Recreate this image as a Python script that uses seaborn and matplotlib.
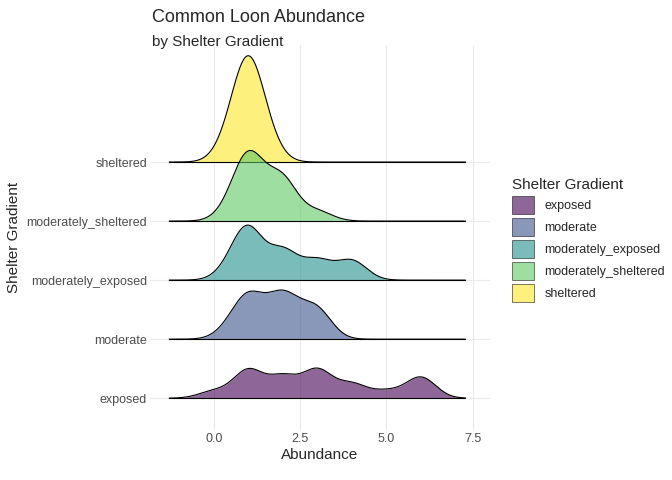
import numpy as np
import matplotlib
matplotlib.use("Agg")
import matplotlib.pyplot as plt
import seaborn as sns
from matplotlib.patches import Patch

groups = ["exposed", "moderate", "moderately_exposed", "moderately_sheltered", "sheltered"]
exposed = [0, 1, 1, 1, 1, 2, 2, 3, 3, 3, 4, 4, 5, 6, 6, 6, 2, 3]
moderate = [1, 1, 1, 2, 2, 2, 3, 3, 1, 2, 3, 1.5, 2.5, 0.5]
moderately_exposed = [0.5, 1, 1, 1, 1, 2, 2, 2, 3, 4, 4, 1, 3]
moderately_sheltered = [0.5, 1, 1, 1, 1, 1, 2, 2, 2, 3, 1, 2, 1.5]
sheltered = [1, 1, 1, 1, 1, 1, 1, 1, 1, 0.5, 1.5, 0.5, 1.5]
values = [exposed, moderate, moderately_exposed, moderately_sheltered, sheltered]

sns.set_theme(style="whitegrid")
plt.rcParams['font.family'] = ['Liberation Sans', 'DejaVu Sans']
colors = ["#440154", "#3B528B", "#21908C", "#5DC863", "#FDE725"]

bw = 0.43
allv = np.concatenate(values)
grid = np.linspace(allv.min() - 3 * bw, allv.max() + 3 * bw, 400)

def kde(v):
    v = np.asarray(v, float)
    d = np.exp(-0.5 * ((grid[:, None] - v[None, :]) / bw) ** 2).sum(axis=1)
    return d / (len(v) * bw * np.sqrt(2 * np.pi))

dens = [kde(v) for v in values]
scale = 1.8 / max(d.max() for d in dens)

fig = plt.figure(figsize=(6.72, 4.8), dpi=100)
ax = fig.add_axes([0.223, 0.104, 0.506, 0.802])
for i in range(len(groups) - 1, -1, -1):
    y = i + dens[i] * scale
    ax.fill_between(grid, i, y, color=colors[i], alpha=0.6, lw=0, zorder=10 - i)
    ax.plot(grid, y, color="black", lw=0.8, zorder=10 - i)
    ax.plot(grid, np.full_like(grid, i), color="black", lw=0.8, zorder=10 - i)

ax.set_xlim(-1.85, 8.0)
ax.set_ylim(-0.54, 5.98)
ax.set_xticks([0, 2.5, 5, 7.5])
ax.set_xticklabels(["0.0", "2.5", "5.0", "7.5"])
ax.set_yticks(range(5))
ax.set_yticklabels(groups)
ax.tick_params(labelsize=9, colors="#4d4d4d", length=0, pad=2)
ax.grid(True, color="#ebebeb", lw=0.8)
for s in ax.spines.values():
    s.set_visible(False)
ax.set_xlabel("Abundance", fontsize=11, labelpad=2)
ax.set_ylabel("Shelter Gradient", fontsize=11)

fig.text(0.226, 0.955, "Common Loon Abundance", fontsize=13)
fig.text(0.226, 0.905, "by Shelter Gradient", fontsize=11)

handles = [Patch(facecolor=c, alpha=0.6, edgecolor="black", lw=0.6) for c in colors]
leg = fig.legend(handles, groups, loc="center left", bbox_to_anchor=(0.745, 0.5),
                 frameon=False, fontsize=9, title="Shelter Gradient",
                 title_fontsize=11, handlelength=1.8, handleheight=1.8,
                 labelspacing=0.35)
leg._legend_box.align = "left"

fig.savefig("out.png", dpi=100)
